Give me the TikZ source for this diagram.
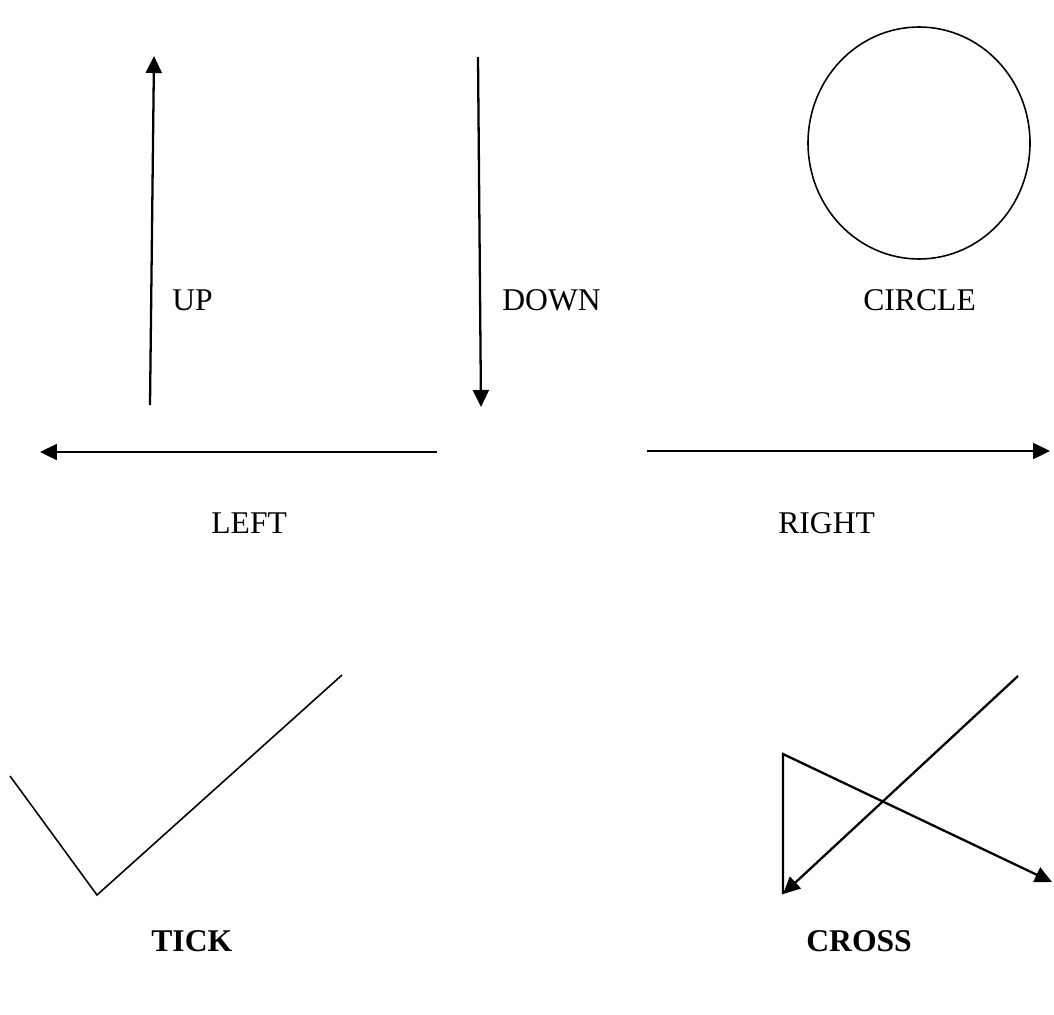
\documentclass[tikz,border=0pt]{standalone}
\usepackage{fontspec}
\setmainfont{Liberation Serif}
\usetikzlibrary{arrows.meta}
\tikzset{
    >=Latex,
    dir_arrow/.style={
        -{Triangle[length=0.34cm, width=0.32cm]},
        line width=1.3pt
    },
    dir_line/.style={
        line width=0.9pt,
        line join=miter
    },
    dir_label/.style={
        font=\fontsize{18}{21}\selectfont,
        anchor=west,
        inner sep=0pt
    },
    dir_bold_label/.style={
        dir_label,
        font=\fontsize{18}{21}\selectfont\bfseries
    }
}

\begin{document}
\begin{tikzpicture}[x=0.02cm, y=-0.02cm]
\useasboundingbox (0,0) rectangle (1054,1014);

% up and down
\coordinate (upStart) at (150,405);
\coordinate (upEnd) at (154,56);
\coordinate (downStart) at (478,57);
\coordinate (downEnd) at (481,407);
\draw[dir_arrow] (upStart) -- (upEnd);
\draw[dir_arrow] (downStart) -- (downEnd);
\node[dir_label] (Up) at (172,300) {UP};
\node[dir_label] (Down) at (502,300) {DOWN};

% circle
\draw[dir_line] (919,143) ellipse (111 and 116);
\node[dir_label] (Circle) at (863,300) {CIRCLE};

% left and right
\coordinate (leftStart) at (437,452);
\coordinate (leftEnd) at (40,452);
\coordinate (rightStart) at (647,451);
\coordinate (rightEnd) at (1050,451);
\draw[dir_arrow] (leftStart) -- (leftEnd);
\draw[dir_arrow] (rightStart) -- (rightEnd);
\node[dir_label] (Left) at (211,523) {LEFT};
\node[dir_label] (Right) at (778,523) {RIGHT};

% tick
\coordinate (tickA) at (10,776);
\coordinate (tickB) at (97,895);
\coordinate (tickC) at (342,675);
\draw[dir_line] (tickA) -- (tickB) -- (tickC);
\node[dir_bold_label] (Tick) at (151,941) {TICK};

% cross
\coordinate (crossA) at (1018,676);
\coordinate (crossB) at (783,894);
\coordinate (crossC) at (783,754);
\coordinate (crossD) at (1052,882);
\draw[dir_arrow] (crossA) -- (crossB);
\draw[dir_arrow, line join=miter] (crossB) -- (crossC) -- (crossD);
\node[dir_bold_label] (Cross) at (806,941) {CROSS};

\end{tikzpicture}
\end{document}
